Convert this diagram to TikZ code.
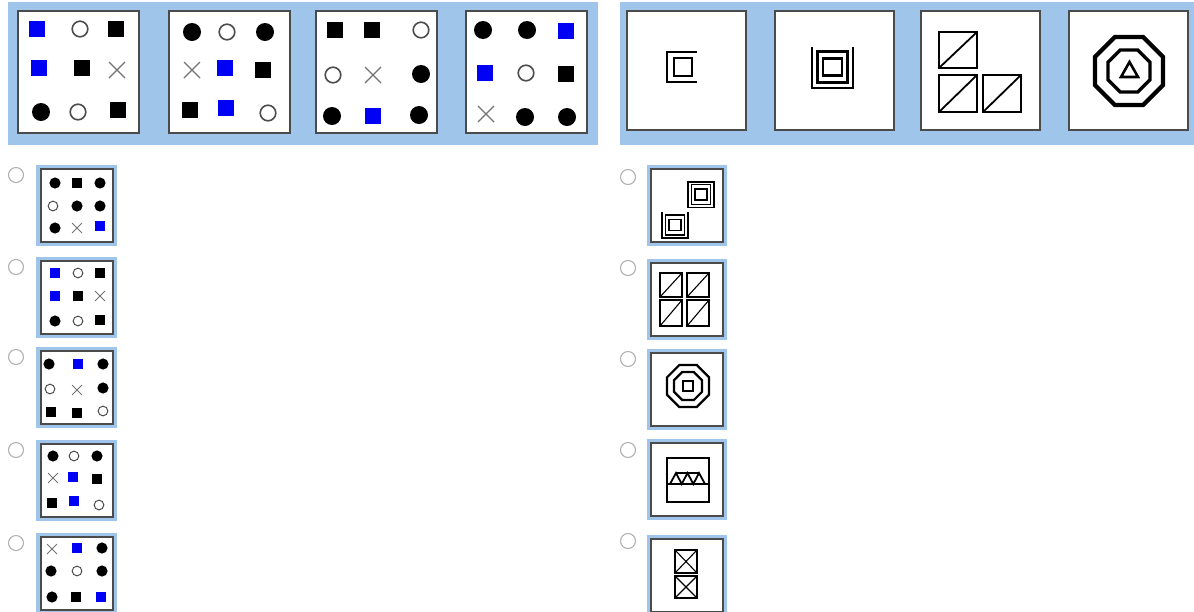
\documentclass[tikz,border=0pt]{standalone}

\definecolor{panelblue}{RGB}{159,197,235}
\definecolor{markblue}{RGB}{0,0,245}
\definecolor{framegray}{RGB}{75,75,75}

\tikzset{
  panel/.style={fill=panelblue, draw=none},
  card/.style={fill=white, draw=framegray, line width=1.8},
  radio/.style={draw=black!30, fill=white, line width=1.1},
  fig/.style={draw=black, line width=2.4, line join=miter},
  thinfig/.style={draw=black, line width=1.8, line join=miter}
}

% grid marks: x, y, scale
\newcommand{\mK}[3]{\fill (#1,#2) circle ({9*#3});}
\newcommand{\mO}[3]{\draw[black!70, line width={1.6*#3}, fill=white] (#1,#2) circle ({7.8*#3});}
\newcommand{\mS}[3]{\fill ({#1-8*#3},{#2-8*#3}) rectangle ({#1+8*#3},{#2+8*#3});}
\newcommand{\mB}[3]{\fill[markblue] ({#1-8*#3},{#2-8*#3}) rectangle ({#1+8*#3},{#2+8*#3});}
\newcommand{\mX}[3]{\draw[black!55, line width={1.3*#3}]
  ({#1-8*#3},{#2-8*#3}) -- ({#1+8*#3},{#2+8*#3})
  ({#1-8*#3},{#2+8*#3}) -- ({#1+8*#3},{#2-8*#3});}
\newcommand{\gridmark}[4]{\csname m#1\endcsname{#2}{#3}{#4}}

% octagon: x, y, flat width, line width
\newcommand{\octa}[4]{\draw[line width=#4, line join=miter] (#1,#2)
  +(22.5:{0.5412*#3}) -- +(67.5:{0.5412*#3}) -- +(112.5:{0.5412*#3})
  -- +(157.5:{0.5412*#3}) -- +(202.5:{0.5412*#3}) -- +(247.5:{0.5412*#3})
  -- +(292.5:{0.5412*#3}) -- +(337.5:{0.5412*#3}) -- cycle;}

% nested squares: x, y, scale, end of outer path
\newcommand{\nestsq}[4]{
  \draw[line width={2.4*#3}] ({#1-9.5*#3},{#2-8.5*#3}) rectangle ({#1+9.5*#3},{#2+8.5*#3});
  \draw[line width={2.4*#3}] ({#1-15*#3},{#2-15.5*#3}) rectangle ({#1+15*#3},{#2+15.5*#3});
  \draw[line width={2.4*#3}] ({#1+20.5*#3},{#2-20*#3}) -- ({#1+20.5*#3},{#2+21*#3})
    -- ({#1-20.5*#3},{#2+21*#3}) -- ({#1-20.5*#3},{#2-20*#3}) #4;}

\begin{document}
\begin{tikzpicture}[x=1pt, y=-1pt]
  \useasboundingbox (0,0) rectangle (1194,611);

  % question strips
  \fill[panel] (8,2) rectangle (598,145);
  \fill[panel] (620,2) rectangle (1194,145);
  \foreach \x in {18,169,316,466}
    \draw[card] (\x,11) rectangle (\x+121,133);
  \foreach \x in {627,775,921,1069}
    \draw[card] (\x,11) rectangle (\x+119,130);

  % left strip: dot grids
  \foreach \t/\x/\y in {B/37/29, O/80/29, S/116/29, B/39/68, S/82/68, X/117/70,
                       K/41/112, O/78/112, S/118/110,
                       K/192/32, O/227/32, K/265/32, X/192/70, B/225/68, S/263/70,
                       S/190/110, B/226/108, O/268/113,
                       S/335/30, S/372/30, O/421/30, O/333/75, X/373/75, K/421/74,
                       K/332/116, B/373/116, K/419/115,
                       K/483/30, K/527/30, B/566/31, B/485/73, O/526/73, S/566/74,
                       X/486/114, K/525/117, K/567/117}
    \gridmark{\t}{\x}{\y}{1};

  % right strip: figures
  \draw[fig] (697,52) -- (667,52) -- (667,82) -- (697,82);
  \draw[fig] (674,58) rectangle (692,76);
  \nestsq{832.5}{67}{1}{}
  \draw[fig, line width=2.8] (939,32) rectangle (977,68);
  \draw[fig, line width=2.8] (939,75) rectangle (977,112);
  \draw[fig, line width=2.8] (983,75) rectangle (1021,112);
  \draw[thinfig] (939,68) -- (977,32) (939,112) -- (977,75) (983,112) -- (1021,75);
  \octa{1129}{71}{68}{4.2}
  \octa{1129}{71}{42}{3.4}
  \draw[line width=2.6, line join=miter] (1121,77) -- (1138,77) -- (1129.5,62) -- cycle;

  % left answers
  \foreach \y in {165,257,347,440,533} {
    \draw[radio] (16,\y+10) circle (7.5);
    \fill[panel] (36,\y) rectangle (117,\y+81);
    \draw[card, line width=1.5] (41,\y+4) rectangle (113,\y+77);
  }
  \foreach \t/\x/\y in {K/55/183, S/77/183, K/100/183, O/53/206, K/77/206, K/100/206,
                       K/55/228, X/77/228, B/100/226,
                       B/55/273, O/78/273, S/100/273, B/55/296, S/78/296, X/100/296,
                       K/55/321, O/78/321, S/100/320,
                       K/49/364, B/78/364, K/103/364, O/50/389, X/77/390, K/103/388,
                       S/51/412, S/77/413, O/103/411,
                       K/53/456, O/74/456, K/97/456, X/53/478, B/73/477, S/97/479,
                       S/52/503, B/74/501, O/99/505,
                       X/52/549, B/77/548, K/102/548, K/51/571, O/77/571, K/102/571,
                       K/52/597, S/76/597, B/101/597}
    \gridmark{\t}{\x}{\y}{0.62};

  % right answers
  \foreach \y/\r in {165/177,259/268,349/359,439/450,535/541} {
    \draw[radio] (628,\r) circle (7.5);
    \fill[panel] (647,\y) rectangle (727,\y+81);
    \draw[card, line width=1.5] (651,\y+4) rectangle (723,\y+77);
  }
  \nestsq{701}{194.5}{0.63}{-- cycle}
  \nestsq{675}{225}{0.63}{}
  \draw[thinfig] (660,273) rectangle (682,297) (687,273) rectangle (709,297)
    (660,300) rectangle (682,326) (687,300) rectangle (709,326);
  \draw[black, line width=1.1] (660,297) -- (682,273) (687,297) -- (709,273)
    (660,326) -- (682,300) (687,326) -- (709,300);
  \octa{688}{386}{42}{2.2}
  \octa{688}{386}{28}{2.2}
  \draw[thinfig] (683,381) rectangle (693,391);
  \draw[thinfig] (667,458) rectangle (709,502);
  \draw[thinfig] (667,484) -- (709,484);
  \draw[thinfig] (670,484) -- (676,473) -- (681.7,484) -- (687.5,473) -- (693.3,484)
    -- (699,473) -- (705,484);
  \draw[thinfig] (676,473) -- (699,473);
  \draw[thinfig] (675,550) rectangle (697,573) (675,576) rectangle (697,598);
  \draw[black, line width=1.1] (675,550) -- (697,573) (675,573) -- (697,550)
    (675,576) -- (697,598) (675,598) -- (697,576);
\end{tikzpicture}
\end{document}
